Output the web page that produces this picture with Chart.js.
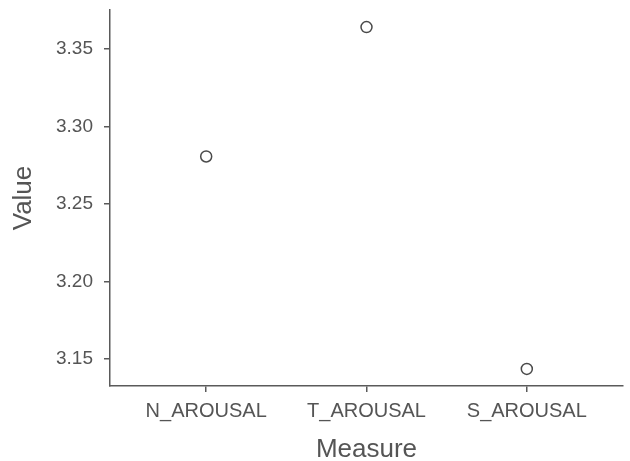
<!DOCTYPE html>
<html>
<head>
<meta charset="utf-8">
<script src="https://cdn.jsdelivr.net/npm/chart.js@4/dist/chart.umd.min.js"></script>
<style>
  body { margin: 0; background: #fff; }
</style>
</head>
<body>
<canvas id="chart" width="630" height="461"></canvas>
<script>
const measures = ["N_AROUSAL", "T_AROUSAL", "S_AROUSAL"];
const values = [3.2807, 3.3642, 3.1436];
const yTicks = [3.15, 3.20, 3.25, 3.30, 3.35];

const axisColor = "#5a5a5a";
const textColor = "#555555";
const fontFamily = "'Liberation Sans', Arial, sans-serif";

const points = measures.map((m, i) => ({ x: i + 1, y: values[i] }));

const ctx = document.getElementById("chart").getContext("2d");
new Chart(ctx, {
  type: "scatter",
  data: {
    datasets: [
      {
        data: points,
        pointRadius: 5.5,
        pointHoverRadius: 5.5,
        pointBorderWidth: 1.5,
        pointBorderColor: "#4a4a4a",
        pointBackgroundColor: "rgba(0,0,0,0)",
      },
    ],
  },
  options: {
    responsive: false,
    animation: false,
    layout: { padding: { left: 0, top: 10, right: -5, bottom: 0 } },
    plugins: {
      legend: { display: false },
      tooltip: { enabled: false },
    },
    scales: {
      x: {
        type: "linear",
        min: 0.4,
        max: 3.6,
        afterBuildTicks: (scale) => {
          scale.ticks = measures.map((m, i) => ({ value: i + 1 }));
        },
        afterFit: (scale) => {
          scale.height = 461 - 386;
          scale.paddingLeft = 0;
          scale.paddingRight = 0;
        },
        grid: {
          display: true,
          drawOnChartArea: false,
          drawTicks: true,
          tickLength: 6,
          color: axisColor,
          lineWidth: 1.5,
        },
        border: { display: true, color: axisColor, width: 1.5 },
        ticks: {
          color: textColor,
          font: { family: fontFamily, size: 20 },
          padding: 7,
          maxRotation: 0,
          autoSkip: false,
          callback: (v) => measures[v - 1],
        },
        title: {
          display: true,
          text: "Measure",
          color: textColor,
          font: { family: fontFamily, size: 26, lineHeight: 0.85 },
          padding: { top: 6, bottom: 0 },
        },
      },
      y: {
        min: 3.1326,
        max: 3.3752,
        afterBuildTicks: (scale) => {
          scale.ticks = yTicks.map((v) => ({ value: v }));
        },
        afterFit: (scale) => {
          scale.width = 110;
          scale.paddingTop = 0;
          scale.paddingBottom = 0;
        },
        grid: {
          display: true,
          drawOnChartArea: false,
          drawTicks: true,
          tickLength: 6,
          color: axisColor,
          lineWidth: 1.5,
        },
        border: { display: true, color: axisColor, width: 1.5 },
        ticks: {
          color: textColor,
          font: { family: fontFamily, size: 19 },
          padding: 11,
          callback: (v) => v.toFixed(2),
        },
        title: {
          display: true,
          text: "Value",
          color: textColor,
          font: { family: fontFamily, size: 26 },
          padding: { top: 8, bottom: 0 },
        },
      },
    },
  },
});
</script>
</body>
</html>
